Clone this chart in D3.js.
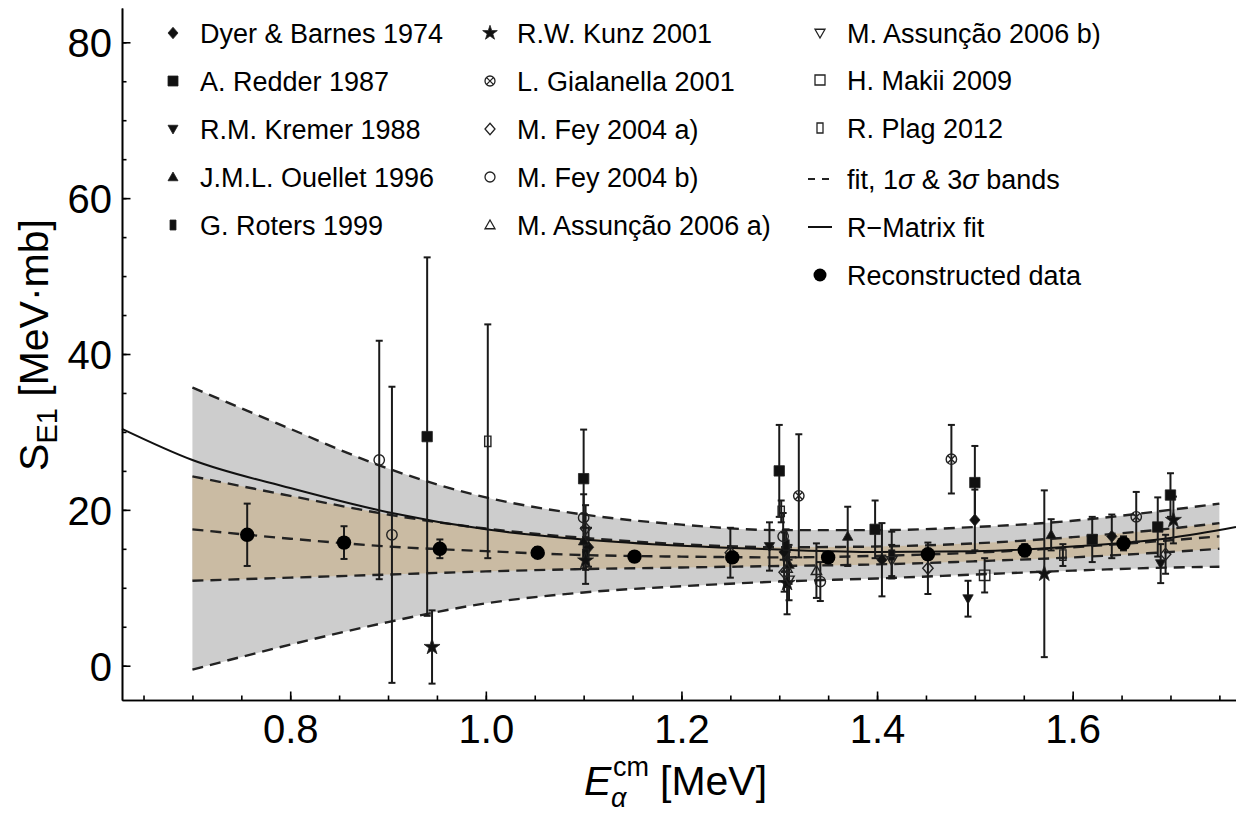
<!DOCTYPE html>
<html>
<head>
<meta charset="utf-8">
<script src="https://cdn.jsdelivr.net/npm/d3@7"></script>
<style>
  body { margin: 0; background: #fff; }
  text { font-family: "Liberation Sans", Arial, sans-serif; fill: #000; }
</style>
</head>
<body>
<svg id="grafico" width="1236" height="814"></svg>
<script>
// pontos experimentais: [E (MeV), S (MeV·mb), erro]
const dyerBarnes = [[1.105, 15.2, 2.5], [1.305, 14.6, 2.5], [1.405, 13.6, 4.7], [1.500, 18.7, 3.9], [1.640, 16.6, 2.8]];
const redder = [[0.940, 29.4, 23.0], [1.100, 24.0, 6.3], [1.300, 25.0, 5.9], [1.398, 17.5, 3.7], [1.500, 23.5, 4.7], [1.620, 16.2, 2.9], [1.687, 17.8, 3.8], [1.700, 21.9, 2.8]];
const kremer = [[1.290, 15.3, 3.1], [1.493, 8.6, 2.3], [1.690, 13.1, 2.5]];
const ouellet = [[1.100, 16.0, 3.5], [1.310, 13.0, 2.5], [1.370, 16.6, 3.8], [1.578, 16.8, 2.0]];
const roters = [[1.102, 14.3, 2.0], [1.307, 15.5, 2.0], [1.415, 14.2, 3.0]];
const kunz = [[0.945, 2.4, 4.7], [1.102, 13.5, 3.0], [1.308, 10.6, 4.0], [1.571, 11.8, 10.7], [1.703, 18.7, 3.0]];
const gialanella = [[1.320, 21.8, 7.9], [1.476, 26.5, 4.4], [1.665, 19.1, 3.2]];
const feyA = [[1.102, 17.6, 3.0], [1.250, 14.5, 3.2], [1.305, 12.0, 2.5], [1.452, 12.5, 3.3], [1.695, 14.3, 2.5]];
const feyB = [[0.891, 26.4, 15.3], [0.904, 16.8, 19.0], [1.100, 19.0, 3.0], [1.304, 16.6, 3.0], [1.342, 10.8, 2.5]];
const assuncaoA = [[1.308, 12.5, 2.4], [1.338, 12.2, 3.5]];
const assuncaoB = [[1.310, 11.0, 2.6], [1.415, 13.5, 2.0]];
const makii = [[1.510, 11.6, 2.2]];
const plag = [[1.002, 28.8, 15.0], [1.302, 19.8, 1.4], [1.590, 14.2, 1.4]];
const reconstruido = [[0.756, 16.8, 4.0], [0.855, 15.8, 2.1], [0.953, 15.0, 1.2], [1.053, 14.5, 0.7], [1.152, 14.0, 0.6], [1.252, 13.9, 0.6], [1.350, 13.9, 0.6], [1.452, 14.3, 0.7], [1.551, 14.8, 0.8], [1.652, 15.7, 0.9]];

// ajuste e bandas 1σ / 3σ
const bandaX = [0.70, 0.80, 0.90, 1.00, 1.10, 1.20, 1.30, 1.40, 1.50, 1.60, 1.70, 1.75];
const sigma3Sup = [35.7, 30.4, 25.3, 21.6, 19.4, 18.1, 17.4, 17.4, 17.8, 18.6, 20.0, 20.8];
const sigma1Sup = [24.3, 21.8, 19.4, 17.6, 16.4, 15.6, 15.2, 15.3, 15.7, 16.5, 17.6, 18.3];
const ajuste = [17.5, 16.3, 15.3, 14.7, 14.2, 14.0, 13.9, 14.1, 14.5, 15.2, 16.1, 16.6];
const sigma1Inf = [10.9, 11.3, 11.7, 12.1, 12.4, 12.6, 12.8, 13.0, 13.4, 13.9, 14.6, 15.0];
const sigma3Inf = [-0.5, 2.7, 5.6, 8.0, 9.4, 10.2, 10.8, 11.2, 11.7, 12.2, 12.6, 12.7];

// ajuste R-Matrix
const rmatrizX = [0.628, 0.70, 0.80, 0.90, 1.00, 1.10, 1.20, 1.30, 1.40, 1.50, 1.60, 1.70, 1.767];
const rmatrizY = [30.4, 26.4, 22.8, 19.7, 17.5, 16.2, 15.4, 14.9, 14.6, 14.7, 15.3, 16.4, 17.8];

const ticksX = [0.8, 1.0, 1.2, 1.4, 1.6];
const ticksY = [0, 20, 40, 60, 80];

const conjuntos = [
  {rotulo: 'Dyer & Barnes 1974', tipo: 'losango', cheio: true, dados: dyerBarnes},
  {rotulo: 'A. Redder 1987', tipo: 'quadrado', cheio: true, dados: redder},
  {rotulo: 'R.M. Kremer 1988', tipo: 'trianguloBaixo', cheio: true, dados: kremer},
  {rotulo: 'J.M.L. Ouellet 1996', tipo: 'trianguloCima', cheio: true, dados: ouellet},
  {rotulo: 'G. Roters 1999', tipo: 'retangulo', cheio: true, dados: roters},
  {rotulo: 'R.W. Kunz 2001', tipo: 'estrela', cheio: true, dados: kunz},
  {rotulo: 'L. Gialanella 2001', tipo: 'circuloX', cheio: false, dados: gialanella},
  {rotulo: 'M. Fey 2004 a)', tipo: 'losango', cheio: false, dados: feyA},
  {rotulo: 'M. Fey 2004 b)', tipo: 'circulo', cheio: false, dados: feyB},
  {rotulo: 'M. Assunção 2006 a)', tipo: 'trianguloCima', cheio: false, dados: assuncaoA},
  {rotulo: 'M. Assunção 2006 b)', tipo: 'trianguloBaixo', cheio: false, dados: assuncaoB},
  {rotulo: 'H. Makii 2009', tipo: 'quadrado', cheio: false, dados: makii},
  {rotulo: 'R. Plag 2012', tipo: 'retangulo', cheio: false, dados: plag}
];

function marcador(tipo, s) {
  switch (tipo) {
    case 'losango': return `M0,${-s * 1.15}L${s},0L0,${s * 1.15}L${-s},0Z`;
    case 'quadrado': return `M${-s},${-s}h${2 * s}v${2 * s}h${-2 * s}Z`;
    case 'retangulo': return `M${-s * 0.6},${-s}h${1.2 * s}v${2 * s}h${-1.2 * s}Z`;
    case 'trianguloBaixo': return `M${-s},${-0.75 * s}L${s},${-0.75 * s}L0,${s}Z`;
    case 'trianguloCima': return `M${-s},${0.75 * s}L${s},${0.75 * s}L0,${-s}Z`;
    case 'estrela': return d3.symbol().type(d3.symbolStar).size(s * s * 2.2)();
    case 'circulo': return `M${s},0A${s},${s} 0 1,1 ${-s},0A${s},${s} 0 1,1 ${s},0Z`;
    case 'circuloX': {
      const k = s * 0.62;
      return `M${s},0A${s},${s} 0 1,1 ${-s},0A${s},${s} 0 1,1 ${s},0Z` +
        `M${-k},${-k}L${k},${k}M${-k},${k}L${k},${-k}`;
    }
  }
}

const svg = d3.select('#grafico');
const x = d3.scaleLinear().domain([0.628, 1.767]).range([122, 1236]);
const y = d3.scaleLinear().domain([-4.4, 84.4]).range([700, 8]);

const plotagem = svg.append('g');

// bandas
const area = (inf, sup) => d3.area()
  .x((d, i) => x(bandaX[i]))
  .y0((d, i) => y(inf[i]))
  .y1((d, i) => y(sup[i]))
  .curve(d3.curveMonotoneX);

plotagem.append('path').datum(bandaX).attr('d', area(sigma3Inf, sigma3Sup)).attr('fill', '#cdcdcd');
plotagem.append('path').datum(bandaX).attr('d', area(sigma1Inf, sigma1Sup)).attr('fill', '#cabba3');

const linhaBanda = d3.line().x(d => x(d[0])).y(d => y(d[1])).curve(d3.curveMonotoneX);
[sigma3Sup, sigma1Sup, ajuste, sigma1Inf, sigma3Inf].forEach(serie => {
  plotagem.append('path')
    .datum(bandaX.map((v, i) => [v, serie[i]]))
    .attr('d', linhaBanda)
    .attr('fill', 'none')
    .attr('stroke', '#222')
    .attr('stroke-width', 2.4)
    .attr('stroke-dasharray', '11,7');
});

plotagem.append('path')
  .datum(rmatrizX.map((v, i) => [v, rmatrizY[i]]))
  .attr('d', d3.line().x(d => x(d[0])).y(d => y(d[1])).curve(d3.curveMonotoneX))
  .attr('fill', 'none')
  .attr('stroke', '#111')
  .attr('stroke-width', 2);

// barras de erro
const todos = conjuntos.flatMap(c => c.dados).concat(reconstruido);
const barras = plotagem.selectAll('.barra').data(todos).enter().append('g').classed('barra', true);
barras.append('line')
  .attr('x1', d => x(d[0])).attr('x2', d => x(d[0]))
  .attr('y1', d => y(d[1] - d[2])).attr('y2', d => y(d[1] + d[2]));
barras.append('line')
  .attr('x1', d => x(d[0]) - 3.5).attr('x2', d => x(d[0]) + 3.5)
  .attr('y1', d => y(d[1] - d[2])).attr('y2', d => y(d[1] - d[2]));
barras.append('line')
  .attr('x1', d => x(d[0]) - 3.5).attr('x2', d => x(d[0]) + 3.5)
  .attr('y1', d => y(d[1] + d[2])).attr('y2', d => y(d[1] + d[2]));
barras.selectAll('line').attr('stroke', '#1a1a1a').attr('stroke-width', 2);

// marcadores
conjuntos.forEach(c => {
  plotagem.selectAll(null)
    .data(c.dados)
    .enter()
    .append('path')
    .attr('transform', d => `translate(${x(d[0])},${y(d[1])})`)
    .attr('d', marcador(c.tipo, c.tipo === 'estrela' ? 6 : 5.2))
    .attr('fill', c.cheio ? '#111' : 'none')
    .attr('stroke', '#222')
    .attr('stroke-width', c.cheio ? 0.8 : 1.4);
});

plotagem.selectAll('.reconstruido')
  .data(reconstruido)
  .enter()
  .append('circle')
  .classed('reconstruido', true)
  .attr('cx', d => x(d[0]))
  .attr('cy', d => y(d[1]))
  .attr('r', 7.2)
  .attr('fill', '#000');

// eixos
const eixoX = svg.append('g').attr('transform', 'translate(0,700)')
  .call(d3.axisBottom(x).tickValues(d3.range(0.65, 1.76, 0.05)).tickSizeInner(-4.5).tickSizeOuter(0).tickFormat(''));
eixoX.append('g').call(d3.axisBottom(x).tickValues(ticksX).tickSizeInner(-8.5).tickSizeOuter(0).tickFormat(d3.format('.1f')));
eixoX.selectAll('text').attr('y', 43).attr('dy', null).style('font-size', '40px').attr('fill', '#000');

const eixoY = svg.append('g').attr('transform', 'translate(122,0)')
  .call(d3.axisLeft(y).tickValues(d3.range(0, 81, 5)).tickSizeInner(-4.5).tickSizeOuter(0).tickFormat(''));
eixoY.append('g').call(d3.axisLeft(y).tickValues(ticksY).tickSizeInner(-8.5).tickSizeOuter(0));
eixoY.selectAll('text').attr('x', -10).attr('dy', '0.36em').style('font-size', '40px').attr('fill', '#000');

svg.selectAll('.domain, .tick line').attr('stroke', '#000').attr('stroke-width', 1.6);

// títulos dos eixos
const tituloY = svg.append('text')
  .attr('transform', 'translate(48,345) rotate(-90)')
  .attr('text-anchor', 'middle')
  .style('font-size', '41px');
tituloY.append('tspan').text('S');
tituloY.append('tspan').attr('dy', 9).style('font-size', '29px').text('E1');
tituloY.append('tspan').attr('dy', -9).text(' [MeV·mb]');

const tituloX = svg.append('g').attr('transform', 'translate(584,795)');
tituloX.append('text').attr('x', 0).style('font-size', '41px').style('font-style', 'italic').text('E');
tituloX.append('text').attr('x', 27).attr('y', 12).style('font-size', '27px').style('font-style', 'italic').text('α');
tituloX.append('text').attr('x', 29).attr('y', -19).style('font-size', '27px').text('cm');
tituloX.append('text').attr('x', 76).style('font-size', '41px').text('[MeV]');

// legenda
const colunas = [
  {xm: 173, xt: 200, linhas: [33, 81, 129, 177, 225]},
  {xm: 490, xt: 517, linhas: [33, 81, 129, 177, 225]},
  {xm: 820, xt: 847, linhas: [33, 80, 128, 179, 227, 275]}
];
const legenda = svg.append('g');
conjuntos.forEach((c, i) => {
  const col = colunas[Math.floor(i / 5)];
  const ly = col.linhas[i % 5];
  legenda.append('path')
    .attr('transform', `translate(${col.xm},${ly})`)
    .attr('d', marcador(c.tipo, c.tipo === 'estrela' ? 5.5 : 5))
    .attr('fill', c.cheio ? '#111' : 'none')
    .attr('stroke', '#222')
    .attr('stroke-width', c.cheio ? 0.8 : 1.3);
  legenda.append('text').attr('x', col.xt).attr('y', ly + 9.5).style('font-size', '27px').text(c.rotulo);
});
const c3 = colunas[2];
legenda.append('line').attr('x1', 808).attr('x2', 829).attr('y1', c3.linhas[3]).attr('y2', c3.linhas[3])
  .attr('stroke', '#222').attr('stroke-width', 2).attr('stroke-dasharray', '7,7');
const tFit = legenda.append('text').attr('x', c3.xt).attr('y', c3.linhas[3] + 9.5).style('font-size', '27px');
tFit.append('tspan').text('fit, 1');
tFit.append('tspan').style('font-style', 'italic').text('σ');
tFit.append('tspan').text(' & 3');
tFit.append('tspan').style('font-style', 'italic').text('σ');
tFit.append('tspan').text(' bands');
legenda.append('line').attr('x1', 808).attr('x2', 832).attr('y1', c3.linhas[4]).attr('y2', c3.linhas[4])
  .attr('stroke', '#111').attr('stroke-width', 2);
legenda.append('text').attr('x', c3.xt).attr('y', c3.linhas[4] + 9.5).style('font-size', '27px').text('R\u2212Matrix fit');
legenda.append('circle').attr('cx', c3.xm).attr('cy', c3.linhas[5]).attr('r', 6.5).attr('fill', '#000');
legenda.append('text').attr('x', c3.xt).attr('y', c3.linhas[5] + 9.5).style('font-size', '27px').text('Reconstructed data');
</script>
</body>
</html>
